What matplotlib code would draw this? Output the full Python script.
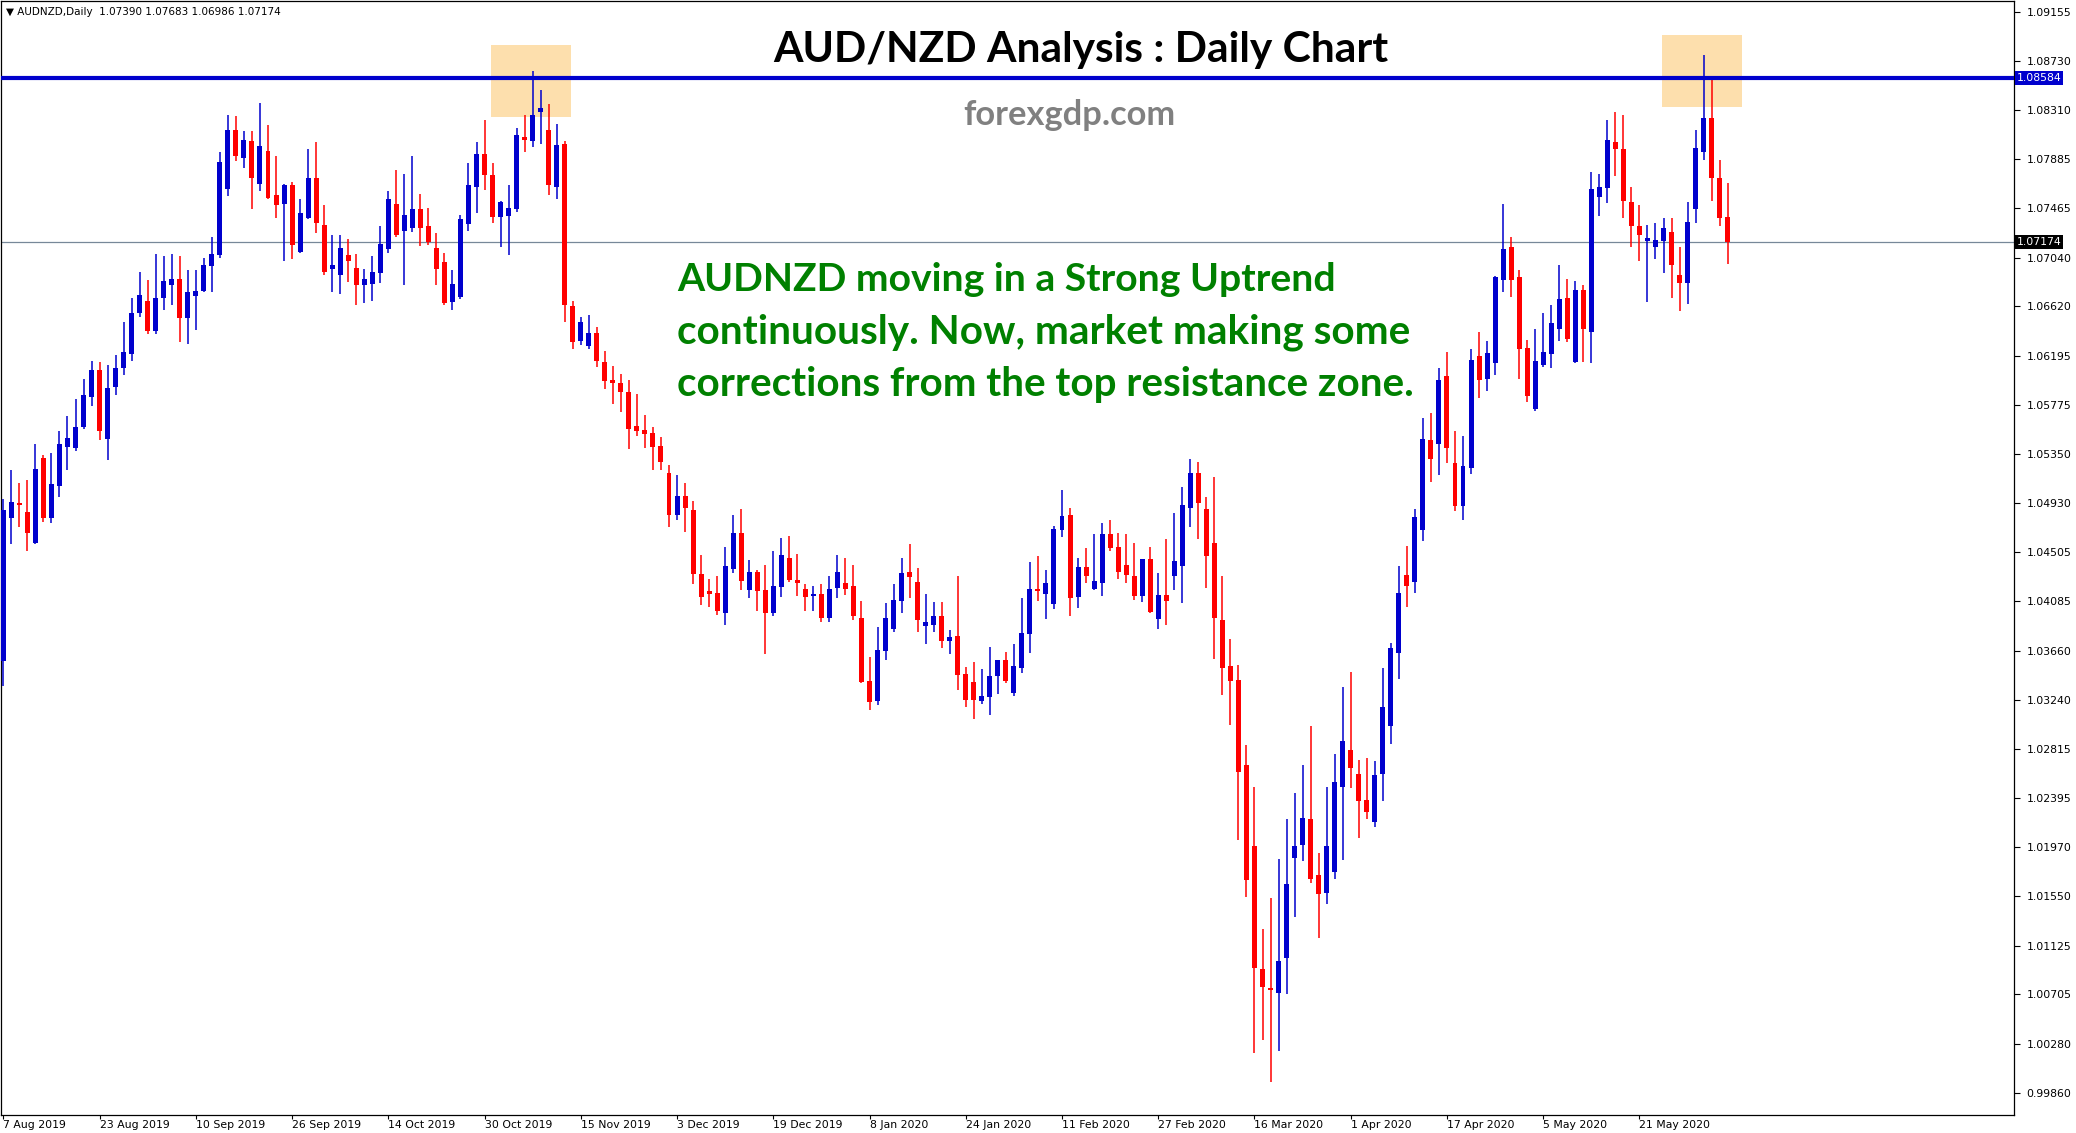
import numpy as np
import pandas as pd
import matplotlib
matplotlib.use("Agg")
import matplotlib.pyplot as plt
from matplotlib.patches import Rectangle

W, H = 2076, 1133

# daily OHLC, 7 Aug 2019 .. 5 Jun 2020
opens = [
    1.0357, 1.0480, 1.0493, 1.0485, 1.0459, 1.0532, 1.0480, 1.0508, 1.0541, 1.0540,
    1.0558, 1.0584, 1.0607, 1.0548, 1.0593, 1.0609, 1.0621, 1.0656, 1.0667, 1.0641,
    1.0669, 1.0680, 1.0686, 1.0652, 1.0671, 1.0675, 1.0697, 1.0706, 1.0763, 1.0814,
    1.0790, 1.0804, 1.0767, 1.0796, 1.0758, 1.0750, 1.0766, 1.0709, 1.0738, 1.0772,
    1.0732, 1.0694, 1.0689, 1.0706, 1.0695, 1.0680, 1.0681, 1.0691, 1.0711, 1.0750,
    1.0727, 1.0729, 1.0746, 1.0731, 1.0712, 1.0700, 1.0666, 1.0670, 1.0733, 1.0765,
    1.0793, 1.0775, 1.0739, 1.0740, 1.0746, 1.0808, 1.0804, 1.0829, 1.0814, 1.0765,
    1.0802, 1.0662, 1.0632, 1.0628, 1.0639, 1.0614, 1.0599, 1.0596, 1.0588, 1.0559,
    1.0556, 1.0553, 1.0542, 1.0519, 1.0483, 1.0499, 1.0487, 1.0432, 1.0417, 1.0416,
    1.0398, 1.0436, 1.0467, 1.0418, 1.0434, 1.0418, 1.0398, 1.0421, 1.0446, 1.0427,
    1.0419, 1.0413, 1.0415, 1.0394, 1.0420, 1.0424, 1.0422, 1.0394, 1.0340, 1.0323,
    1.0366, 1.0385, 1.0409, 1.0434, 1.0425, 1.0387, 1.0388, 1.0396, 1.0374, 1.0379,
    1.0346, 1.0339, 1.0323, 1.0326, 1.0344, 1.0358, 1.0330, 1.0351, 1.0380, 1.0419,
    1.0415, 1.0406, 1.0470, 1.0483, 1.0412, 1.0438, 1.0419, 1.0424, 1.0466, 1.0455,
    1.0440, 1.0430, 1.0413, 1.0445, 1.0393, 1.0414, 1.0430, 1.0439, 1.0489, 1.0519,
    1.0488, 1.0459, 1.0392, 1.0353, 1.0341, 1.0268, 1.0198, 1.0092, 1.0076, 1.0072,
    1.0102, 1.0188, 1.0199, 1.0221, 1.0173, 1.0158, 1.0176, 1.0249, 1.0281, 1.0260,
    1.0238, 1.0219, 1.0260, 1.0301, 1.0364, 1.0431, 1.0425, 1.0470, 1.0547, 1.0544,
    1.0602, 1.0527, 1.0490, 1.0523, 1.0619, 1.0600, 1.0613, 1.0685, 1.0713, 1.0687,
    1.0626, 1.0574, 1.0612, 1.0621, 1.0643, 1.0669, 1.0614, 1.0676, 1.0640, 1.0756,
    1.0764, 1.0803, 1.0797, 1.0752, 1.0731, 1.0718, 1.0713, 1.0718, 1.0726, 1.0689,
    1.0682, 1.0746, 1.0795, 1.0824, 1.0772, 1.07390,
]
highs = [
    1.0496, 1.0521, 1.0510, 1.0513, 1.0544, 1.0534, 1.0536, 1.0555, 1.0568, 1.0582,
    1.0600, 1.0615, 1.0614, 1.0612, 1.0620, 1.0649, 1.0669, 1.0692, 1.0685, 1.0707,
    1.0705, 1.0707, 1.0705, 1.0693, 1.0693, 1.0704, 1.0722, 1.0795, 1.0827, 1.0826,
    1.0813, 1.0813, 1.0837, 1.0818, 1.0791, 1.0767, 1.0769, 1.0754, 1.0797, 1.0803,
    1.0749, 1.0723, 1.0723, 1.0720, 1.0707, 1.0694, 1.0705, 1.0731, 1.0761, 1.0779,
    1.0776, 1.0791, 1.0759, 1.0747, 1.0725, 1.0708, 1.0693, 1.0741, 1.0785, 1.0803,
    1.0822, 1.0785, 1.0753, 1.0766, 1.0815, 1.0827, 1.0864, 1.0848, 1.0836, 1.0819,
    1.0804, 1.0667, 1.0653, 1.0655, 1.0644, 1.0624, 1.0611, 1.0604, 1.0599, 1.0587,
    1.0569, 1.0558, 1.0550, 1.0526, 1.0517, 1.0510, 1.0495, 1.0448, 1.0428, 1.0430,
    1.0455, 1.0483, 1.0488, 1.0444, 1.0435, 1.0440, 1.0452, 1.0463, 1.0465, 1.0449,
    1.0423, 1.0422, 1.0423, 1.0430, 1.0448, 1.0446, 1.0440, 1.0409, 1.0361, 1.0386,
    1.0407, 1.0423, 1.0446, 1.0458, 1.0437, 1.0415, 1.0408, 1.0408, 1.0384, 1.0430,
    1.0352, 1.0356, 1.0350, 1.0369, 1.0358, 1.0365, 1.0372, 1.0411, 1.0442, 1.0447,
    1.0435, 1.0473, 1.0504, 1.0489, 1.0446, 1.0454, 1.0466, 1.0476, 1.0478, 1.0467,
    1.0466, 1.0459, 1.0445, 1.0455, 1.0433, 1.0462, 1.0484, 1.0507, 1.0531, 1.0528,
    1.0498, 1.0515, 1.0430, 1.0376, 1.0354, 1.0285, 1.0249, 1.0127, 1.0153, 1.0187,
    1.0221, 1.0244, 1.0268, 1.0301, 1.0192, 1.0249, 1.0277, 1.0335, 1.0348, 1.0272,
    1.0274, 1.0271, 1.0351, 1.0373, 1.0439, 1.0456, 1.0488, 1.0566, 1.0570, 1.0609,
    1.0623, 1.0555, 1.0551, 1.0625, 1.0640, 1.0632, 1.0688, 1.0750, 1.0722, 1.0693,
    1.0633, 1.0643, 1.0656, 1.0663, 1.0698, 1.0686, 1.0684, 1.0680, 1.0778, 1.0776,
    1.0822, 1.0829, 1.0827, 1.0765, 1.0749, 1.0732, 1.0734, 1.0738, 1.0738, 1.0713,
    1.0752, 1.0814, 1.0878, 1.0857, 1.0788, 1.07683,
]
lows = [
    1.0336, 1.0458, 1.0472, 1.0452, 1.0458, 1.0477, 1.0476, 1.0498, 1.0521, 1.0538,
    1.0557, 1.0576, 1.0547, 1.0530, 1.0586, 1.0603, 1.0615, 1.0653, 1.0638, 1.0638,
    1.0659, 1.0663, 1.0631, 1.0630, 1.0642, 1.0674, 1.0674, 1.0704, 1.0757, 1.0787,
    1.0781, 1.0746, 1.0761, 1.0754, 1.0738, 1.0701, 1.0703, 1.0708, 1.0737, 1.0725,
    1.0689, 1.0674, 1.0673, 1.0683, 1.0663, 1.0665, 1.0667, 1.0682, 1.0708, 1.0722,
    1.0680, 1.0726, 1.0714, 1.0715, 1.0680, 1.0663, 1.0659, 1.0668, 1.0727, 1.0742,
    1.0762, 1.0734, 1.0713, 1.0706, 1.0743, 1.0795, 1.0799, 1.0802, 1.0758, 1.0754,
    1.0649, 1.0625, 1.0629, 1.0625, 1.0610, 1.0591, 1.0578, 1.0571, 1.0539, 1.0551,
    1.0540, 1.0521, 1.0521, 1.0472, 1.0478, 1.0468, 1.0423, 1.0405, 1.0404, 1.0397,
    1.0388, 1.0433, 1.0418, 1.0411, 1.0400, 1.0363, 1.0396, 1.0412, 1.0425, 1.0413,
    1.0400, 1.0400, 1.0391, 1.0391, 1.0411, 1.0414, 1.0392, 1.0338, 1.0315, 1.0319,
    1.0358, 1.0382, 1.0398, 1.0411, 1.0382, 1.0372, 1.0382, 1.0368, 1.0363, 1.0332,
    1.0318, 1.0307, 1.0320, 1.0311, 1.0329, 1.0338, 1.0327, 1.0347, 1.0364, 1.0409,
    1.0393, 1.0402, 1.0464, 1.0396, 1.0403, 1.0424, 1.0418, 1.0413, 1.0452, 1.0428,
    1.0424, 1.0410, 1.0408, 1.0398, 1.0385, 1.0388, 1.0418, 1.0407, 1.0472, 1.0462,
    1.0420, 1.0359, 1.0328, 1.0302, 1.0203, 1.0154, 1.0020, 1.0031, 0.9995, 1.0022,
    1.0071, 1.0137, 1.0185, 1.0166, 1.0119, 1.0148, 1.0170, 1.0186, 1.0248, 1.0205,
    1.0221, 1.0214, 1.0237, 1.0286, 1.0342, 1.0404, 1.0416, 1.0460, 1.0511, 1.0517,
    1.0527, 1.0486, 1.0478, 1.0518, 1.0583, 1.0589, 1.0603, 1.0674, 1.0670, 1.0600,
    1.0580, 1.0572, 1.0610, 1.0609, 1.0632, 1.0631, 1.0613, 1.0614, 1.0613, 1.0740,
    1.0751, 1.0774, 1.0738, 1.0713, 1.0701, 1.0666, 1.0703, 1.0691, 1.0669, 1.0658,
    1.0664, 1.0734, 1.0788, 1.0753, 1.0731, 1.06986,
]
closes = [
    1.0487, 1.0494, 1.0491, 1.0467, 1.0522, 1.0480, 1.0509, 1.0544, 1.0549, 1.0558,
    1.0586, 1.0607, 1.0555, 1.0592, 1.0609, 1.0623, 1.0656, 1.0672, 1.0641, 1.0669,
    1.0684, 1.0686, 1.0652, 1.0674, 1.0675, 1.0698, 1.0707, 1.0786, 1.0814, 1.0791,
    1.0805, 1.0772, 1.0800, 1.0755, 1.0749, 1.0766, 1.0715, 1.0742, 1.0772, 1.0734,
    1.0692, 1.0698, 1.0712, 1.0701, 1.0680, 1.0686, 1.0692, 1.0716, 1.0754, 1.0723,
    1.0741, 1.0746, 1.0729, 1.0717, 1.0694, 1.0665, 1.0681, 1.0737, 1.0766, 1.0793,
    1.0775, 1.0739, 1.0752, 1.0747, 1.0809, 1.0805, 1.0827, 1.0833, 1.0766, 1.0801,
    1.0663, 1.0631, 1.0649, 1.0639, 1.0615, 1.0598, 1.0596, 1.0588, 1.0557, 1.0555,
    1.0552, 1.0541, 1.0528, 1.0483, 1.0499, 1.0489, 1.0432, 1.0412, 1.0415, 1.0400,
    1.0439, 1.0467, 1.0426, 1.0434, 1.0417, 1.0398, 1.0422, 1.0448, 1.0427, 1.0424,
    1.0412, 1.0415, 1.0394, 1.0419, 1.0434, 1.0419, 1.0396, 1.0339, 1.0322, 1.0367,
    1.0394, 1.0410, 1.0433, 1.0429, 1.0392, 1.0391, 1.0396, 1.0374, 1.0378, 1.0345,
    1.0324, 1.0324, 1.0327, 1.0344, 1.0358, 1.0340, 1.0353, 1.0381, 1.0419, 1.0417,
    1.0424, 1.0471, 1.0482, 1.0411, 1.0438, 1.0430, 1.0426, 1.0466, 1.0454, 1.0434,
    1.0431, 1.0413, 1.0445, 1.0399, 1.0414, 1.0409, 1.0443, 1.0491, 1.0519, 1.0493,
    1.0447, 1.0394, 1.0351, 1.0340, 1.0262, 1.0169, 1.0093, 1.0077, 1.0074, 1.0099,
    1.0165, 1.0198, 1.0222, 1.0170, 1.0157, 1.0198, 1.0253, 1.0288, 1.0265, 1.0237,
    1.0227, 1.0259, 1.0318, 1.0368, 1.0416, 1.0422, 1.0481, 1.0548, 1.0531, 1.0599,
    1.0540, 1.0490, 1.0525, 1.0616, 1.0599, 1.0622, 1.0687, 1.0711, 1.0685, 1.0625,
    1.0585, 1.0615, 1.0623, 1.0648, 1.0668, 1.0634, 1.0676, 1.0643, 1.0763, 1.0765,
    1.0805, 1.0797, 1.0753, 1.0731, 1.0723, 1.0721, 1.0719, 1.0729, 1.0698, 1.0682,
    1.0735, 1.0798, 1.0824, 1.0772, 1.0738, 1.07174,
]

price_ticks = [1.09155, 1.08730, 1.08310, 1.07885, 1.07465, 1.07040, 1.06620,
               1.06195, 1.05775, 1.05350, 1.04930, 1.04505, 1.04085, 1.03660,
               1.03240, 1.02815, 1.02395, 1.01970, 1.01550, 1.01125, 1.00705,
               1.00280, 0.99860]
resistance = 1.08584
last_price = 1.07174
# resistance zones: first/last bar, low/high price
zone_bars = [(60.8, 70.8), (206.8, 216.8)]
zone_prices = [(1.08249, 1.08868), (1.08335, 1.08954)]

title = "AUD/NZD Analysis : Daily Chart"
site = "forexgdp.com"
note = ["AUDNZD moving in a Strong Uptrend",
        "continuously. Now, market making some",
        "corrections from the top resistance zone."]
header = "\u25bc AUDNZD,Daily  1.07390 1.07683 1.06986 1.07174"

# trading days (no Christmas / New Year bars)
days = pd.bdate_range("2019-08-07", "2020-06-30")
days = days[~days.isin(pd.to_datetime(["2019-12-25", "2020-01-01"]))][:len(opens)]
date_labels = [f"{d.day} {d:%b %Y}" for d in days[::12]]

BLUE = "#0000cd"
RED = "#ff0000"

fig = plt.figure(figsize=(W / 100, H / 100), dpi=100)
ax = fig.add_axes([1 / W, 1 - 1115 / H, 2013 / W, 1114 / H])

x = np.arange(len(opens))
o, hi, lo, c = (np.array(a) for a in (opens, highs, lows, closes))
cols = np.where(c >= o, BLUE, RED)

for (b0, b1), (p0, p1) in zip(zone_bars, zone_prices):
    ax.add_patch(Rectangle((b0, p0), b1 - b0, p1 - p0, facecolor="#fddfad",
                           edgecolor="none", zorder=1))

ax.axhline(last_price, color="#778899", lw=0.9, zorder=2)
ax.vlines(x, lo, hi, colors=cols, lw=1.1, zorder=3)
ax.bar(x, np.maximum(np.abs(c - o), 0.00009), bottom=np.minimum(o, c),
       width=0.62, color=cols, linewidth=0, zorder=4)
ax.axhline(resistance, color=BLUE, lw=3.0, zorder=5)

ax.set_xlim(-0.29, 250.7)
ax.set_ylim(0.99668, 1.09246)

ax.yaxis.tick_right()
ax.set_yticks(price_ticks)
ax.set_yticklabels([f"{v:.5f}" for v in price_ticks])
ax.tick_params(axis="y", direction="out", length=4, width=0.8, pad=5,
               labelsize=7.8)
ax.set_xticks(x[::12])
ax.set_xticklabels(date_labels, ha="left")
ax.tick_params(axis="x", direction="out", length=3, width=0.8, pad=0.5,
               labelsize=7.8)
for s in ax.spines.values():
    s.set_linewidth(0.9)
    s.set_color("black")

ytr = ax.get_yaxis_transform()
ax.text(1.0015, resistance, f"{resistance:.5f}", transform=ytr, fontsize=7.8,
        color="white", va="center", ha="left",
        bbox=dict(boxstyle="square,pad=0.15", fc=BLUE, ec="none"), zorder=6)
ax.text(1.0015, last_price, f"{last_price:.5f}", transform=ytr, fontsize=7.8,
        color="white", va="center", ha="left",
        bbox=dict(boxstyle="square,pad=0.15", fc="black", ec="none"), zorder=6)

fig.text(6 / W, 1 - 12 / H, header, fontsize=7.5, va="center", ha="left")

renderer = fig.canvas.get_renderer()


def fitted(txt, x0, x1, base, size, **kw):
    t = fig.text(x0 / W, 1 - base / H, txt, va="baseline", ha="left",
                 fontsize=size, **kw)
    w = t.get_window_extent(renderer).width
    t.set_fontsize(size * (x1 - x0) / w)
    return t


fitted(title, 773, 1388, 62, 30, family="Lato", weight="bold", color="black")
fitted(site, 963, 1175, 125, 20, family="Lato", weight="bold", color="#808080")

# the three note lines, each fitted to its width in the reference
for line, right, base in zip(note, [1337, 1410, 1414], [291, 343, 396]):
    fitted(line, 677, right, base, 28, family="Lato", weight="bold",
           color="#008000")

fig.savefig("out.png", dpi=100)
